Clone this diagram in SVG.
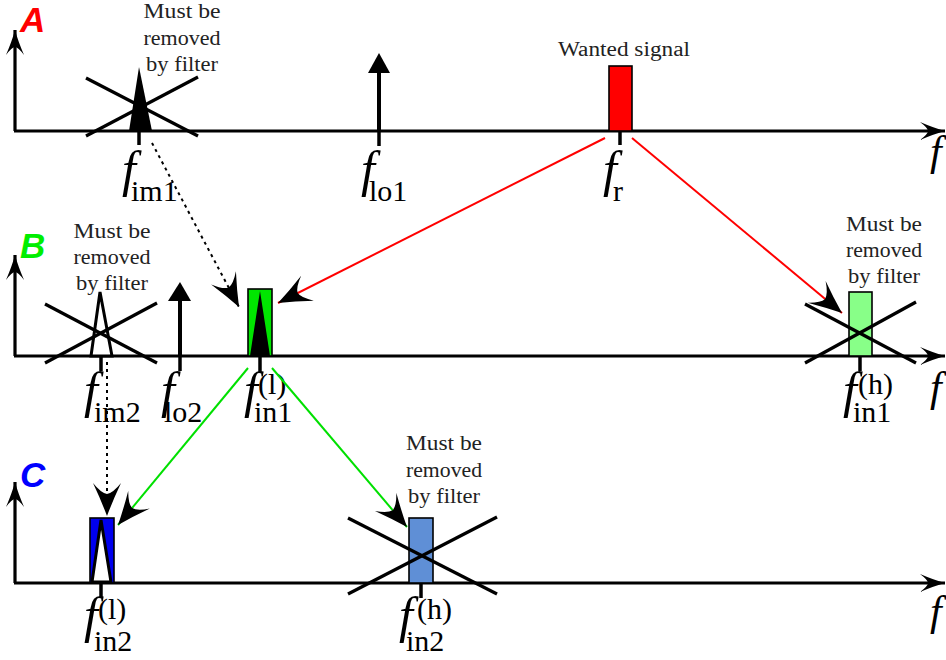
<svg xmlns="http://www.w3.org/2000/svg" width="946" height="660" viewBox="0 0 946 660">
<style>
.axis{stroke:#000;stroke-width:3.2;fill:none}
.tick{stroke:#000;stroke-width:3.5}
.cross{stroke:#000;stroke-width:3.2;stroke-linecap:butt}
.note{font-family:"Liberation Serif",serif;font-size:20px;fill:#222;text-anchor:middle}
.fi{font-family:"Liberation Serif",serif;font-style:italic;font-size:50px;fill:#000}
.fa{font-family:"Liberation Serif",serif;font-style:italic;font-size:42px;fill:#000}
.sub{font-family:"Liberation Serif",serif;font-style:normal;font-size:30px;fill:#000}
.row{font-family:"Liberation Sans",sans-serif;font-style:italic;font-weight:bold;font-size:35px}
.red{stroke:#ff0000;stroke-width:2;fill:none}
.grn{stroke:#00e000;stroke-width:2;fill:none}
.dot{stroke:#000;stroke-width:2;stroke-dasharray:3 4;fill:none}
.rect{stroke:#000;stroke-width:1.6}
</style>
<defs>
<marker id="ax" viewBox="-27 -11 29 22" markerWidth="29" markerHeight="22" refX="0" refY="0" orient="auto" markerUnits="userSpaceOnUse">
<path d="M0,0 Q-11,-3 -25,-9 Q-17,-3 -17,0 Q-17,3 -25,9 Q-11,3 0,0 Z" fill="#000"/>
</marker>
<marker id="big" viewBox="-34 -15 36 30" markerWidth="36" markerHeight="30" refX="0" refY="0" orient="auto" markerUnits="userSpaceOnUse">
<path d="M0,0 Q-16,-6 -33,-14 Q-23,-6 -22,0 Q-23,6 -33,14 Q-16,6 0,0 Z" fill="#000"/>
</marker>
</defs>

<g id="rowA-axes">
<text class="row" x="20" y="32" fill="#ff0000">A</text>
<line class="axis" x1="15" y1="131" x2="15" y2="30" marker-end="url(#ax)"/>
<line class="axis" x1="14" y1="131" x2="945" y2="131" marker-end="url(#ax)"/>
<text class="fa" x="930" y="165">f</text>
</g>

<g id="rowA-image">
<polygon points="139,67 129,131 152,131" fill="#000"/>
<line class="cross" x1="86" y1="78" x2="198" y2="136"/>
<line class="cross" x1="86" y1="136" x2="198" y2="77"/>
<line class="tick" x1="139" y1="131" x2="139" y2="145"/>
<text class="note" x="182" y="18" textLength="77" lengthAdjust="spacingAndGlyphs">Must be</text>
<text class="note" x="182" y="45" textLength="77" lengthAdjust="spacingAndGlyphs">removed</text>
<text class="note" x="182" y="71" textLength="72" lengthAdjust="spacingAndGlyphs">by filter</text>
<text class="fi" x="122" y="186">f<tspan class="sub" x="131" y="201">im1</tspan></text>
</g>

<g id="rowA-lo1">
<line x1="379" y1="131" x2="379" y2="70" stroke="#000" stroke-width="4"/>
<polygon points="368,73 379,53 390,73" fill="#000"/>
<line class="tick" x1="379" y1="131" x2="379" y2="146"/>
<text class="fi" x="361" y="186">f<tspan class="sub" x="369" y="201">lo1</tspan></text>
</g>

<g id="rowA-signal">
<rect class="rect" x="609" y="66" width="23" height="65" fill="#ff0000"/>
<line class="tick" x1="620" y1="131" x2="620" y2="145"/>
<text class="note" x="624" y="56" textLength="132" lengthAdjust="spacingAndGlyphs">Wanted signal</text>
<text class="fi" x="603" y="186">f<tspan class="sub" x="613" y="201">r</tspan></text>
</g>

<g id="rowB-axes">
<text class="row" x="20" y="258" fill="#00ee00">B</text>
<line class="axis" x1="15" y1="356" x2="15" y2="255" marker-end="url(#ax)"/>
<line class="axis" x1="14" y1="356" x2="945" y2="356" marker-end="url(#ax)"/>
<text class="fa" x="930" y="401">f</text>
</g>

<g id="rowB-image">
<polygon points="100,292 91,356 112,356" fill="#fff" stroke="#000" stroke-width="3"/>
<line class="cross" x1="45" y1="304" x2="157" y2="363"/>
<line class="cross" x1="45" y1="363" x2="157" y2="303"/>
<line class="tick" x1="101" y1="356" x2="101" y2="371"/>
<text class="note" x="112" y="238" textLength="77" lengthAdjust="spacingAndGlyphs">Must be</text>
<text class="note" x="112" y="264" textLength="77" lengthAdjust="spacingAndGlyphs">removed</text>
<text class="note" x="112" y="290" textLength="72" lengthAdjust="spacingAndGlyphs">by filter</text>
<text class="fi" x="84" y="407">f<tspan class="sub" x="94" y="422">im2</tspan></text>
</g>

<g id="rowB-lo2">
<line x1="180" y1="356" x2="180" y2="298" stroke="#000" stroke-width="4"/>
<polygon points="168,301 180,282 191,301" fill="#000"/>
<line class="tick" x1="180" y1="356" x2="180" y2="371"/>
<text class="fi" x="161" y="407">f<tspan class="sub" x="164" y="422">lo2</tspan></text>
</g>

<g id="rowB-in1-low">
<rect class="rect" x="248" y="289" width="24" height="67" fill="#00e600"/>
<polygon points="260,291 250,356 270,356" fill="#000"/>
<line class="tick" x1="260" y1="356" x2="260" y2="372"/>
<text class="fi" x="244" y="407">f<tspan class="sub" x="258" y="394">(l)</tspan><tspan class="sub" x="254" y="422">in1</tspan></text>
</g>

<g id="rowB-in1-high">
<rect class="rect" x="849" y="292" width="23" height="64" fill="#88ff88"/>
<line class="cross" x1="805" y1="304" x2="916" y2="363"/>
<line class="cross" x1="805" y1="363" x2="916" y2="302"/>
<line class="tick" x1="860" y1="356" x2="860" y2="371"/>
<text class="note" x="884" y="231" textLength="76" lengthAdjust="spacingAndGlyphs">Must be</text>
<text class="note" x="884" y="257" textLength="76" lengthAdjust="spacingAndGlyphs">removed</text>
<text class="note" x="884" y="283" textLength="72" lengthAdjust="spacingAndGlyphs">by filter</text>
<text class="fi" x="843" y="407">f<tspan class="sub" x="858" y="394">(h)</tspan><tspan class="sub" x="853" y="422">in1</tspan></text>
</g>

<g id="rowC-axes">
<text class="row" x="20" y="487" fill="#0000ff">C</text>
<line class="axis" x1="15" y1="583" x2="15" y2="482" marker-end="url(#ax)"/>
<line class="axis" x1="14" y1="583" x2="945" y2="583" marker-end="url(#ax)"/>
<text class="fa" x="930" y="625">f</text>
</g>

<g id="rowC-in2-low">
<rect class="rect" x="90" y="518" width="24" height="65" fill="#0000ee"/>
<polygon points="101,520 92,582 111,582" fill="#fff" stroke="#000" stroke-width="3"/>
<line class="tick" x1="101" y1="583" x2="101" y2="598"/>
<text class="fi" x="84" y="632">f<tspan class="sub" x="98" y="619">(l)</tspan><tspan class="sub" x="94" y="651">in2</tspan></text>
</g>

<g id="rowC-in2-high">
<rect class="rect" x="409" y="518" width="24" height="65" fill="#5f8fd6"/>
<line class="cross" x1="348" y1="518" x2="497" y2="594"/>
<line class="cross" x1="348" y1="594" x2="497" y2="517"/>
<line class="tick" x1="421" y1="583" x2="421" y2="598"/>
<text class="note" x="444" y="450" textLength="76" lengthAdjust="spacingAndGlyphs">Must be</text>
<text class="note" x="444" y="477" textLength="76" lengthAdjust="spacingAndGlyphs">removed</text>
<text class="note" x="444" y="503" textLength="72" lengthAdjust="spacingAndGlyphs">by filter</text>
<text class="fi" x="399" y="632">f<tspan class="sub" x="417" y="619">(h)</tspan><tspan class="sub" x="406" y="651">in2</tspan></text>
</g>

<g id="connectors">
<line class="dot" x1="152" y1="143" x2="239" y2="307" marker-end="url(#big)"/>
<line class="red" x1="605" y1="138" x2="278" y2="303" marker-end="url(#big)"/>
<line class="red" x1="632" y1="138" x2="842" y2="313" marker-end="url(#big)"/>
<line class="grn" x1="248" y1="368" x2="118" y2="525" marker-end="url(#big)"/>
<line class="grn" x1="272" y1="368" x2="407" y2="527" marker-end="url(#big)"/>
<line class="dot" x1="107" y1="362" x2="107" y2="516" marker-end="url(#big)"/>
</g>
</svg>
